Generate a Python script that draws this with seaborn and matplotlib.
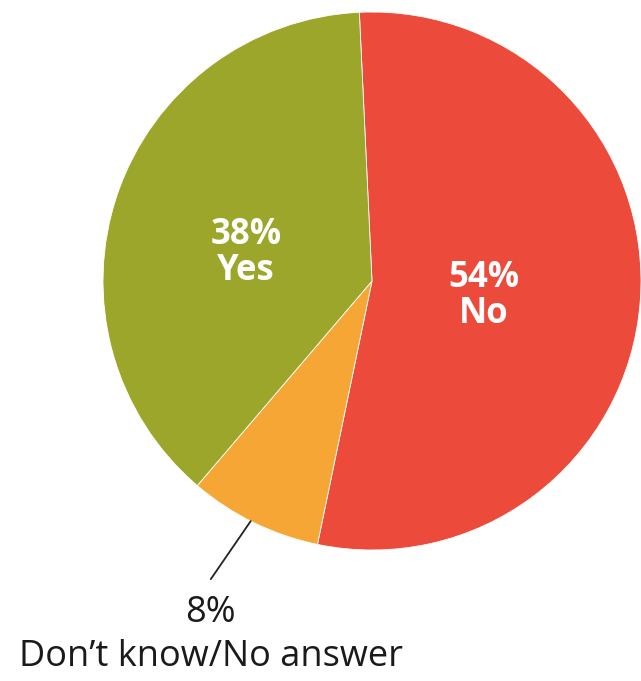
import numpy as np
import matplotlib
matplotlib.use("Agg")
import matplotlib.pyplot as plt
import seaborn as sns

# data
answers = ["No", "Don\u2019t know/No answer", "Yes"]
shares = [54, 8, 38]
colors = ["#EC4B3C", "#F5A634", "#9CA62A"]

sns.set_theme(style="white")
plt.rcParams["font.family"] = ["Open Sans", "DejaVu Sans"]

W, H = 641, 681
fig = plt.figure(figsize=(W / 100, H / 100), dpi=100)
ax = fig.add_axes([0, 0, 1, 1])

cx, cy, r = 372, H - 281, 269
wedges, _ = ax.pie(shares, colors=sns.color_palette(colors), startangle=92.7,
                   counterclock=False, center=(cx, cy), radius=r,
                   wedgeprops=dict(linewidth=0.6, edgecolor="white"))

# label placement: (distance as fraction of radius, angle shift in degrees)
inner_pos = {"No": (0.42, -3.2), "Yes": (0.48, 6.5)}

for w, lab, val in zip(wedges, answers, shares):
    mid = (w.theta1 + w.theta2) / 2
    if lab in inner_pos:
        d, da = inner_pos[lab]
        a = np.deg2rad(mid + da)
        ax.text(cx + d * r * np.cos(a), cy + d * r * np.sin(a), f"{val}%\n{lab}",
                color="white", fontsize=25, fontweight="bold",
                ha="center", va="center", linespacing=1.0)
    else:
        a0 = np.deg2rad(mid - 0.7)
        a1 = np.deg2rad(mid - 2.3)
        p0 = (cx + 1.0 * r * np.cos(a0), cy + 1.0 * r * np.sin(a0))
        p1 = (cx + 1.26 * r * np.cos(a1), cy + 1.26 * r * np.sin(a1))
        ax.plot([p0[0], p1[0]], [p0[1], p1[1]], color="#222222", lw=1.3)
        ax.text(p1[0], p1[1] - 16, f"{val}%\n{lab}", color="#1a1a1a",
                fontsize=26, ha="center", va="top", linespacing=1.3)

ax.set_xlim(0, W)
ax.set_ylim(0, H)
ax.set_aspect("equal")
ax.axis("off")

fig.savefig("out.png", dpi=100)
